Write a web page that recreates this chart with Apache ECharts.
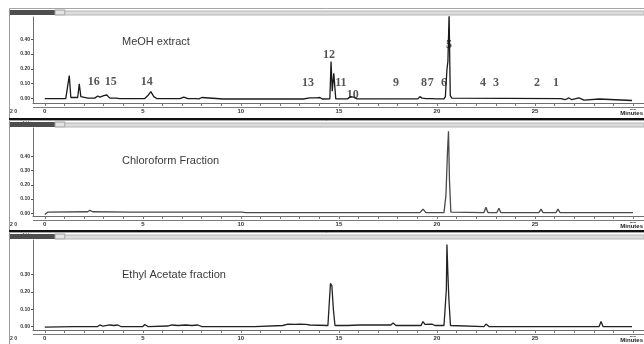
<!DOCTYPE html>
<html>
<head>
<meta charset="utf-8">
<script src="https://cdn.jsdelivr.net/npm/echarts@6/dist/echarts.min.js"></script>
<style>
  html, body { margin: 0; padding: 0; background: #ffffff; overflow: hidden; }
  #chart { width: 644px; height: 344px; }
</style>
</head>
<body>
<div id="chart"></div>
<script>
// Retention time (minutes) / absorbance (AU) traces
const meohTrace = [
  [0.00, 0.000], [1.07, 0.000], [1.17, 0.003], [1.25, 0.155], [1.33, 0.007], [1.43, 0.004],
  [1.68, 0.007], [1.76, 0.100], [1.84, 0.013], [1.94, 0.007], [2.19, 0.003], [2.55, 0.003],
  [2.70, 0.017], [2.81, 0.010], [3.01, 0.020], [3.16, 0.024], [3.32, 0.003], [3.62, 0.003],
  [3.72, 0.013], [3.83, 0.000], [5.10, 0.000], [5.26, 0.020], [5.41, 0.047], [5.56, 0.013],
  [5.71, 0.000], [6.89, 0.000], [7.09, 0.010], [7.30, 0.000], [7.70, 0.000], [7.78, 0.007],
  [7.86, -0.002], [8.01, 0.007], [8.11, -0.002], [9.10, -0.003], [9.18, 0.004], [9.26, -0.003],
  [10.00, -0.003], [10.05, 0.004], [10.12, -0.003], [10.66, -0.003], [10.71, 0.004], [10.78, -0.003],
  [12.30, -0.003], [12.35, 0.004], [12.42, -0.003], [13.06, -0.003], [13.11, 0.004], [13.18, -0.003],
  [13.52, 0.004], [13.60, -0.003], [13.88, 0.004], [14.03, 0.007], [14.15, -0.003], [14.54, -0.002],
  [14.60, 0.250], [14.66, 0.050], [14.74, 0.170], [14.84, -0.002], [14.90, -0.012], [15.00, -0.002],
  [15.45, -0.002], [15.60, 0.013], [15.75, 0.010], [15.92, -0.002], [17.76, -0.002], [17.86, 0.010],
  [17.96, -0.002], [19.03, -0.002], [19.13, 0.013], [19.24, 0.003], [19.34, 0.010], [19.44, 0.000],
  [19.75, 0.000], [19.85, 0.007], [19.95, -0.002], [20.36, -0.002], [20.43, 0.013], [20.51, 0.196],
  [20.56, 0.250], [20.62, 0.570], [20.68, 0.020], [20.76, 0.003], [20.86, 0.000], [26.33, 0.000],
  [26.53, -0.008], [26.73, 0.004], [26.88, -0.008], [27.24, 0.004], [27.50, -0.010], [28.27, -0.003],
  [28.37, -0.013], [29.95, -0.013]
];

const chloroformTrace = [
  [0.00, -0.010], [0.15, 0.007], [2.19, 0.010], [2.30, 0.020], [2.45, 0.010], [4.33, 0.007],
  [10.05, 0.007], [10.15, 0.020], [10.25, 0.004], [19.13, 0.004], [19.29, 0.028], [19.44, 0.004],
  [20.36, 0.004], [20.46, 0.127], [20.54, 0.440], [20.59, 0.577], [20.64, 0.232], [20.71, 0.007],
  [20.80, 0.004], [22.40, 0.004], [22.50, 0.042], [22.60, 0.004], [23.06, 0.004], [23.16, 0.035],
  [23.26, 0.004], [25.20, 0.004], [25.31, 0.028], [25.41, 0.004], [26.07, 0.004], [26.17, 0.028],
  [26.28, 0.004], [28.57, 0.004], [28.67, 0.010], [28.78, 0.004], [30.00, 0.004]
];

const ethylAcetateTrace = [
  [0.00, -0.003], [1.43, 0.000], [1.53, 0.009], [1.63, 0.000], [2.70, 0.000], [2.81, 0.009],
  [2.96, 0.003], [3.32, 0.009], [3.52, 0.006], [3.72, 0.009], [3.88, 0.000], [5.00, 0.000],
  [5.10, 0.012], [5.26, 0.000], [6.27, 0.003], [6.48, 0.009], [6.79, 0.006], [7.19, 0.009],
  [7.50, 0.006], [7.81, 0.009], [8.01, 0.000], [9.90, 0.000], [9.95, 0.009], [10.05, 0.000],
  [10.56, 0.000], [10.61, 0.009], [10.71, 0.000], [12.14, 0.006], [12.40, 0.014], [12.76, 0.012],
  [13.01, 0.014], [13.32, 0.012], [13.52, 0.009], [14.44, 0.006], [14.52, 0.156], [14.57, 0.249],
  [14.64, 0.237], [14.72, 0.098], [14.80, 0.006], [15.41, 0.006], [15.51, 0.012], [16.07, 0.009],
  [16.84, 0.009], [17.65, 0.009], [17.76, 0.020], [17.91, 0.006], [19.19, 0.006], [19.29, 0.029],
  [19.39, 0.012], [19.74, 0.014], [19.90, 0.006], [20.36, 0.006], [20.43, 0.127], [20.48, 0.214],
  [20.51, 0.474], [20.56, 0.300], [20.61, 0.156], [20.69, 0.006], [22.40, 0.000], [22.50, 0.014],
  [22.65, 0.000], [28.27, 0.000], [28.37, 0.029], [28.47, 0.000], [29.95, 0.000]
];

// Numbered peaks in the methanol extract: label, retention time, label height (AU)
const peakIds      = ['16', '15', '14', '13', '12', '11', '10', '9', '8', '7', '6', '5', '4', '3', '2', '1'];
const peakTimes    = [2.50, 3.37, 5.20, 13.42, 14.49, 15.10, 15.71, 17.91, 19.34, 19.69, 20.36, 20.61, 22.35, 23.01, 25.10, 26.07];
const peakLabelAU  = [0.115, 0.115, 0.115, 0.108, 0.297, 0.108, 0.022, 0.108, 0.108, 0.108, 0.108, 0.365, 0.108, 0.108, 0.108, 0.108];

const panelTitles  = ['MeOH extract', 'Chloroform Fraction', 'Ethyl Acetate fraction'];
const timeTicks    = [0, 5, 10, 15, 20, 25, 30];
const minuteTicks  = Array.from({ length: 31 }, (_, i) => i);
const auTicks      = [[0, 0.1, 0.2, 0.3, 0.4], [0, 0.1, 0.2, 0.3, 0.4], [0, 0.1, 0.2, 0.3]];

const traces = [meohTrace, chloroformTrace, ethylAcetateTrace];
const traceColors = ['#1a1a1a', '#4a4a4a', '#222222'];

// panel layout (pixels)
const panels = [
  { top: 17,  height: 86, min: -0.03, max: 0.55, frameTop: 8 },
  { top: 128, height: 88, min: -0.02, max: 0.60, frameTop: 120 },
  { top: 240, height: 90, min: -0.02, max: 0.50, frameTop: 232 }
];

const chart = echarts.init(document.getElementById('chart'), null, { renderer: 'canvas' });

const grid = panels.map(p => ({
  left: 33, right: 0, top: p.top, height: p.height,
  containLabel: false, outerBoundsMode: 'none'
}));

const xAxis = panels.map((p, i) => ({
  type: 'value', gridIndex: i, min: -0.6, max: 30.56,
  axisLine: { show: true, onZero: false, lineStyle: { color: '#6e6e6e', width: 1 } },
  axisTick: { show: true, customValues: minuteTicks, length: 3, lineStyle: { color: '#777' } },
  axisLabel: {
    show: true, customValues: timeTicks, fontSize: 6, color: '#333', margin: 5,
    fontFamily: 'Liberation Sans', fontWeight: 'bold'
  },
  splitLine: { show: false }
}));

const yAxis = panels.map((p, i) => ({
  type: 'value', gridIndex: i, min: p.min, max: p.max,
  axisLine: { show: true, onZero: false, lineStyle: { color: '#6e6e6e', width: 1 } },
  axisTick: { show: true, customValues: auTicks[i], length: 2, lineStyle: { color: '#555' } },
  axisLabel: {
    show: true, customValues: auTicks[i], fontSize: 5, color: '#333', margin: 3,
    fontFamily: 'Liberation Sans', fontWeight: 'bold',
    formatter: v => v.toFixed(2)
  },
  splitLine: { show: false },
  name: 'AU', nameLocation: 'end', nameGap: 2,
  nameTextStyle: { fontSize: 5, color: '#333', fontFamily: 'Liberation Sans', align: 'right', padding: [0, 4, 0, 0] }
}));

const series = traces.map((tr, i) => ({
  type: 'line', xAxisIndex: i, yAxisIndex: i, data: tr,
  showSymbol: false, smooth: false, clip: true, animation: false,
  lineStyle: { color: traceColors[i], width: 1.3 }
}));

series.push({
  type: 'scatter', xAxisIndex: 0, yAxisIndex: 0, symbolSize: 0, animation: false, silent: true,
  data: peakIds.map((id, k) => ({ value: [peakTimes[k], peakLabelAU[k]], name: id })),
  label: {
    show: true, position: 'inside', formatter: p => p.name,
    fontFamily: 'Liberation Serif', fontWeight: 'bold', fontSize: 12, color: '#2a2a2a'
  }
});

// window chrome around each panel: header strip, double axis rule, heavy separator, axis unit
const graphic = [
  { type: 'line', shape: { x1: 9.5, y1: 8, x2: 9.5, y2: 344 }, style: { stroke: '#9a9a9a', lineWidth: 1 }, z: 10 }
];
panels.forEach((p, i) => {
  const ft = p.frameTop;
  const axisY = p.top + p.height;
  graphic.push(
    { type: 'line', shape: { x1: 9, y1: ft + 0.5, x2: 644, y2: ft + 0.5 }, style: { stroke: '#a5a5a5', lineWidth: 1 }, z: 10 },
    { type: 'rect', shape: { x: 10, y: ft + 2, width: 45, height: 5 }, style: { fill: '#4d4d4d' }, z: 10 },
    { type: 'rect', shape: { x: 55, y: ft + 2, width: 10, height: 5 }, style: { fill: '#e4e4e4', stroke: '#9c9c9c', lineWidth: 1 }, z: 10 },
    { type: 'rect', shape: { x: 65, y: ft + 3, width: 579, height: 4 }, style: { fill: '#dcdcdc', stroke: '#b4b4b4', lineWidth: 1 }, z: 10 },
    { type: 'line', shape: { x1: 33, y1: axisY + 4.5, x2: 644, y2: axisY + 4.5 }, style: { stroke: '#7a7a7a', lineWidth: 1 }, z: 10 },
    { type: 'text', x: 10, y: axisY + 6, style: { text: '2 0', fontSize: 5, fill: '#333', fontFamily: 'Liberation Sans', fontWeight: 'bold' }, z: 10 },
    {
      type: 'text', x: 643, y: axisY + 7, z: 11,
      style: { text: 'Minutes', fontSize: 6, fill: '#222', fontFamily: 'Liberation Sans', fontWeight: 'bold', textAlign: 'right', backgroundColor: '#ffffff' }
    },
    {
      type: 'text', x: 122, y: (i === 0 ? 42 : i === 1 ? 161 : 275), z: 10,
      style: { text: panelTitles[i], fontSize: 11, fill: '#3a3a3a', fontFamily: 'Liberation Sans', textVerticalAlign: 'middle' }
    }
  );
  if (i < 2) {
    graphic.push({ type: 'rect', shape: { x: 9, y: ft + 110, width: 635, height: 3 }, style: { fill: '#111' }, z: 10 });
  }
});

chart.setOption({
  backgroundColor: '#ffffff',
  animation: false,
  grid, xAxis, yAxis, series, graphic
});
</script>
</body>
</html>
